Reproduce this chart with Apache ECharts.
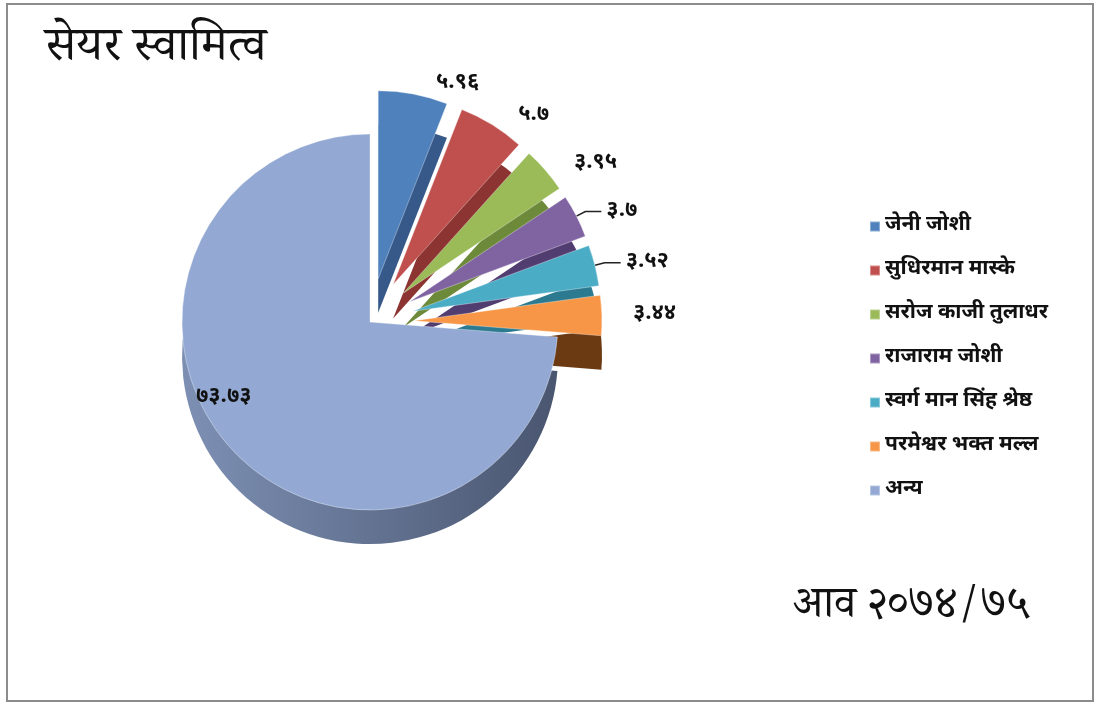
<!DOCTYPE html>
<html>
<head>
<meta charset="utf-8">
<title>सेयर स्वामित्व</title>
<script src="https://cdn.jsdelivr.net/npm/echarts@6/dist/echarts.min.js"></script>
<style>
  html, body { margin: 0; padding: 0; background: #fff; }
  #main { width: 1100px; height: 710px; }
</style>
</head>
<body>
<div id="main"></div>
<script>
// शेयरधनी र प्रतिशत
var names = ['जेनी जोशी', 'सुधिरमान मास्के', 'सरोज काजी तुलाधर', 'राजाराम जोशी',
  'स्वर्ग मान सिंह श्रेष्ठ', 'परमेश्वर भक्त मल्ल', 'अन्य'];
var shares = [5.96, 5.7, 3.95, 3.7, 3.52, 3.44, 73.73];
var topColors = ['#4f81bd', '#c0504d', '#9bbb59', '#8064a2', '#4bacc6', '#f79646', '#93a9d4'];
var sideColors = ['#36598a', '#8c3431', '#6d8a3a', '#523d70', '#2b7a8f', '#6b3a12', '#4a5670'];

var devDigits = ['०', '१', '२', '३', '४', '५', '६', '७', '८', '९'];
function toDev(v) {
  return String(v).replace(/[0-9]/g, function (d) { return devDigits[+d]; });
}

var font = '"Noto Sans Devanagari", "Noto Serif Devanagari", "Lohit Devanagari", "Noto Sans", sans-serif';
var serif = '"Noto Serif Devanagari", "Noto Sans Devanagari", serif';

var center = ['370', '322'];
var centerLow = ['370', '356'];
var radius = 188;

var topData = names.map(function (n, i) {
  var isOther = i === names.length - 1;
  var item = {
    name: n,
    value: shares[i],
    selected: !isOther,
    itemStyle: { color: topColors[i] }
  };
  if (isOther) {
    item.label = { position: 'inside', offset: [-75, 10] };
  }
  if (i !== 3 && i !== 4) {
    item.labelLine = { show: false };
  }
  return item;
});

var sideData = names.map(function (n, i) {
  return {
    name: n,
    value: shares[i],
    selected: i !== names.length - 1,
    itemStyle: {
      color: new echarts.graphic.LinearGradient(0, 0, 1, 0, [
        { offset: 0, color: i === names.length - 1 ? '#7d90b4' : sideColors[i] },
        { offset: 1, color: sideColors[i] }
      ])
    }
  };
});

var chart = echarts.init(document.getElementById('main'));
chart.setOption({
  backgroundColor: '#fff',
  animation: false,
  title: [{
    text: 'सेयर स्वामित्व',
    left: 40, top: 26,
    textStyle: { fontFamily: serif, fontSize: 48, fontWeight: 'normal', color: '#111' }
  }, {
    text: 'आव ' + toDev('2074/75'),
    left: 788, top: 586,
    textStyle: { fontFamily: serif, fontSize: 44, fontWeight: 'normal', color: '#111' }
  }],
  legend: {
    orient: 'vertical',
    left: 864, top: 208,
    icon: 'rect',
    itemWidth: 10, itemHeight: 10,
    itemGap: 17,
    selectedMode: false,
    data: names,
    textStyle: { fontFamily: font, fontSize: 21, fontWeight: 'bold', color: '#111', lineHeight: 27 }
  },
  graphic: [{
    type: 'rect',
    shape: { x: 7, y: 4, width: 1086, height: 697 },
    style: { fill: 'none', stroke: '#8c8c8c', lineWidth: 2 },
    silent: true
  }],
  series: [{
    name: 'top',
    type: 'pie',
    z: 3,
    center: center,
    radius: radius,
    startAngle: 90,
    selectedMode: 'multiple',
    selectedOffset: 44,
    itemStyle: { borderColor: 'rgba(255,255,255,0.35)', borderWidth: 1 },
    label: {
      show: true,
      position: 'outside',
      formatter: function (p) { return toDev(p.value); },
      fontFamily: font,
      fontSize: 22,
      fontWeight: 'bold',
      color: '#111'
    },
    labelLine: { show: true, length: 10, length2: 16, lineStyle: { color: '#222', width: 1.5 } },
    emphasis: { disabled: true },
    data: topData
  }, {
    name: 'side',
    type: 'pie',
    z: 1,
    silent: true,
    center: centerLow,
    radius: radius,
    startAngle: 90,
    selectedMode: 'multiple',
    selectedOffset: 44,
    label: { show: false },
    labelLine: { show: false },
    emphasis: { disabled: true },
    data: sideData
  }]
});
</script>
</body>
</html>
